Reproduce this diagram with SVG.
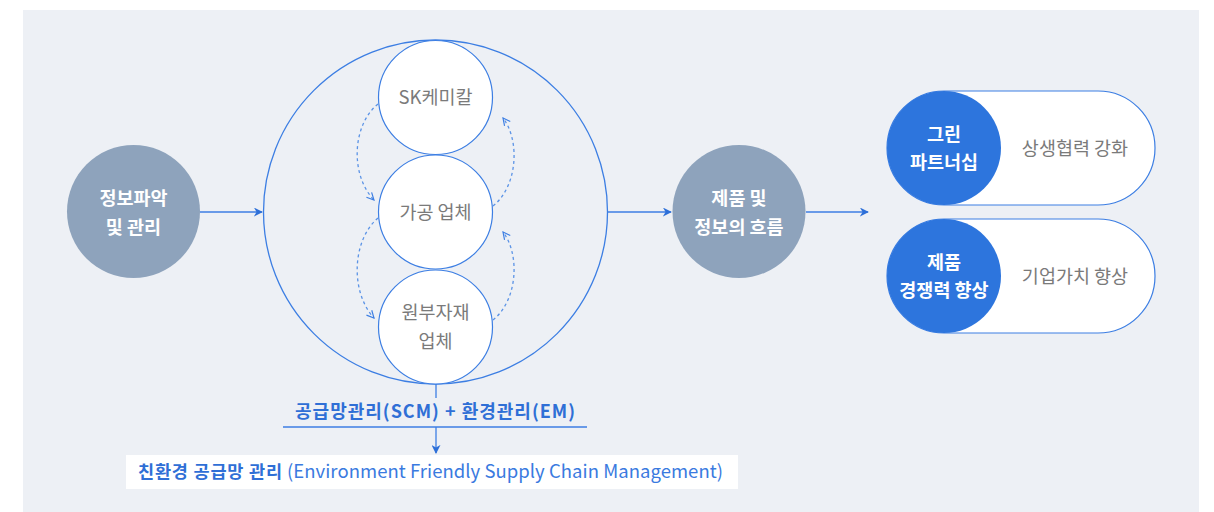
<svg xmlns="http://www.w3.org/2000/svg" width="1214" height="512" viewBox="0 0 1214 512">
<defs>
<style>
.kr{font-family:"Noto Sans CJK KR","Noto Sans",sans-serif}
.wb{fill:#ffffff;font-weight:700;font-size:18.5px}
.gt{fill:#7a7a7a;font-size:18.5px}
.line{stroke:#3c7ee3;stroke-width:1.3;fill:none}
.dash{stroke:#5b93e6;stroke-width:1.3;fill:none;stroke-dasharray:3 3}
.gray{fill:#8ea3bc}
.blue{fill:#2d75dd}
.sub{stroke:#3c7ee3;stroke-width:1.2;fill:#ffffff}
</style>
<marker id="ah" viewBox="0 0 10 10" refX="9" refY="5" markerWidth="9" markerHeight="9" markerUnits="userSpaceOnUse" orient="auto">
<path d="M0,0 L10,5 L0,10 L3,5 Z" fill="#2d6fd8"/>
</marker>
<marker id="oa" viewBox="0 0 10 10" refX="9" refY="5" markerWidth="9" markerHeight="9" markerUnits="userSpaceOnUse" orient="auto">
<path d="M1,1 L9,5 L1,9" fill="none" stroke="#3c7ee3" stroke-width="1.3"/>
</marker>
</defs>
<rect x="0" y="0" width="1214" height="512" fill="#ffffff"/>
<rect x="23" y="10" width="1176" height="502" fill="#edf0f5"/>

<g id="big-circle">
<circle cx="435.5" cy="212" r="172" fill="none" stroke="#3c7ee3" stroke-width="1.3"/>
</g>

<g id="node-info">
<circle class="gray" cx="133.5" cy="211.5" r="66.5"/>
<text class="kr wb" x="133.5" y="205" text-anchor="middle">정보파악</text>
<text class="kr wb" x="133.5" y="234" text-anchor="middle">및 관리</text>
</g>

<g id="node-sk">
<circle class="sub" cx="435.5" cy="97.5" r="57"/>
<text class="kr gt" x="435.5" y="104" text-anchor="middle">SK케미칼</text>
</g>
<g id="node-proc">
<circle class="sub" cx="435.5" cy="212" r="57"/>
<text class="kr gt" x="435.5" y="218.5" text-anchor="middle">가공 업체</text>
</g>
<g id="node-raw">
<circle class="sub" cx="435.5" cy="327" r="57"/>
<text class="kr gt" x="435.5" y="319" text-anchor="middle">원부자재</text>
<text class="kr gt" x="435.5" y="348" text-anchor="middle">업체</text>
</g>

<g id="node-flow">
<circle class="gray" cx="739" cy="211.5" r="66.5"/>
<text class="kr wb" x="739" y="205" text-anchor="middle">제품 및</text>
<text class="kr wb" x="739" y="234" text-anchor="middle">정보의 흐름</text>
</g>

<g id="node-green">
<rect x="887" y="91" width="268" height="114" rx="57" ry="57" fill="#ffffff" stroke="#3c7ee3" stroke-width="1.2"/>
<circle class="blue" cx="944" cy="148" r="57"/>
<text class="kr wb" x="944" y="141" text-anchor="middle">그린</text>
<text class="kr wb" x="944" y="169" text-anchor="middle">파트너십</text>
<text class="kr gt" x="1075" y="154.5" text-anchor="middle">상생협력 강화</text>
</g>

<g id="node-product">
<rect x="887" y="219" width="268" height="114" rx="57" ry="57" fill="#ffffff" stroke="#3c7ee3" stroke-width="1.2"/>
<circle class="blue" cx="944" cy="276" r="57"/>
<text class="kr wb" x="944" y="269" text-anchor="middle">제품</text>
<text class="kr wb" x="944" y="297" text-anchor="middle">경쟁력 향상</text>
<text class="kr gt" x="1075" y="282.5" text-anchor="middle">기업가치 향상</text>
</g>

<g id="connectors">
<line class="line" x1="200" y1="212" x2="262" y2="212" marker-end="url(#ah)"/>
<line class="line" x1="608" y1="212" x2="671" y2="212" marker-end="url(#ah)"/>
<line class="line" x1="806" y1="212" x2="868" y2="212" marker-end="url(#ah)"/>
<path class="dash" d="M378,104 C352,125 350,175 374,200" marker-end="url(#oa)"/>
<path class="dash" d="M378,218 C352,240 350,292 374,318" marker-end="url(#oa)"/>
<path class="dash" d="M493,206 C518,186 520,140 503,118" marker-end="url(#oa)"/>
<path class="dash" d="M493,320 C518,300 520,254 503,232" marker-end="url(#oa)"/>
<line class="line" x1="436" y1="384" x2="436" y2="398"/>
<line class="line" x1="283" y1="427" x2="587" y2="427"/>
<line class="line" x1="436" y1="427" x2="436" y2="453" marker-end="url(#ah)"/>
</g>

<g id="label-scm">
<text class="kr" x="295" y="418" font-size="18" font-weight="700" fill="#2f6fd6" textLength="280" lengthAdjust="spacing">공급망관리(SCM) + 환경관리(EM)</text>
</g>

<g id="label-bottom">
<rect x="126" y="455" width="612" height="34" fill="#ffffff"/>
<text class="kr" x="138" y="478" font-size="17.5" font-weight="700" fill="#2f6fd6" textLength="144" lengthAdjust="spacing">친환경 공급망 관리</text>
<text class="kr" x="287" y="478" font-size="18.5" fill="#3a7ae0" textLength="436" lengthAdjust="spacing">(Environment Friendly Supply Chain Management)</text>
</g>
</svg>
